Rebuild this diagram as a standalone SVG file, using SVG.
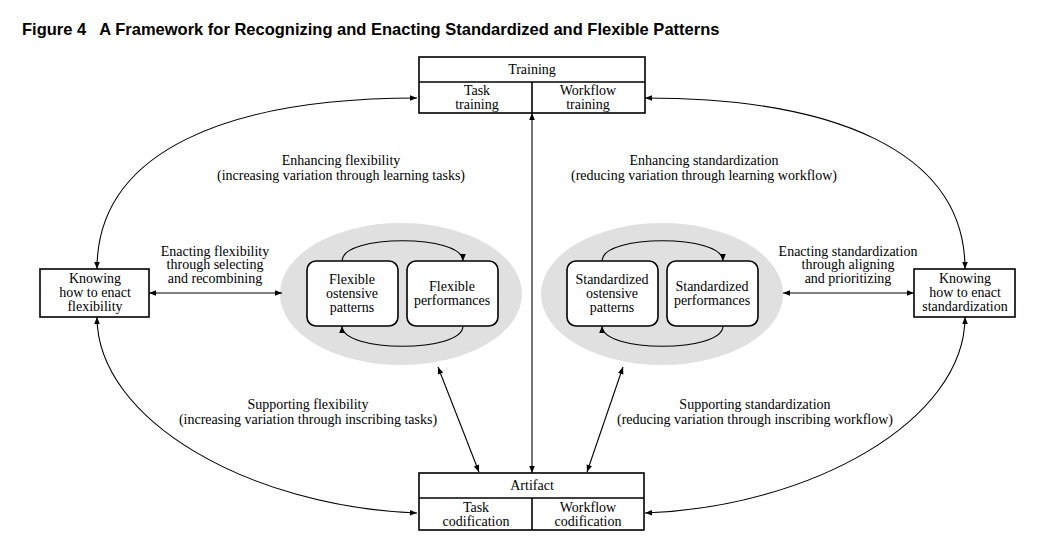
<svg xmlns="http://www.w3.org/2000/svg" width="1054" height="557" viewBox="0 0 1054 557">
<style>
.t{font-family:"Liberation Serif","Times New Roman",serif;font-size:14px;fill:#000;text-anchor:middle}
.box{fill:#fff;stroke:#000;stroke-width:1.6}
.rbox{fill:#fff;stroke:#000;stroke-width:1.6}
.ell{fill:#e0e0e0;stroke:none}
.c{fill:none;stroke:#000;stroke-width:1.1}
.title{font-family:"Liberation Sans",Arial,sans-serif;font-size:16.5px;font-weight:bold;fill:#000}
</style>
<defs>
<marker id="ah" viewBox="0 0 10 10" refX="10" refY="5" markerWidth="8" markerHeight="7" markerUnits="userSpaceOnUse" orient="auto-start-reverse">
<path d="M0,1 L10,5 L0,9 z" fill="#000"/>
</marker>
</defs>
<rect width="1054" height="557" fill="#fff"/>
<text class="title" x="22" y="35" xml:space="preserve">Figure 4   A Framework for Recognizing and Enacting Standardized and Flexible Patterns</text>

<g id="ellipse-flexible"><ellipse class="ell" cx="401" cy="294" rx="121" ry="71"/></g>
<g id="ellipse-standardized"><ellipse class="ell" cx="662" cy="294" rx="121" ry="71"/></g>

<g id="connectors">
<path class="c" d="M97,269 C97,150 230,98 417,98" marker-start="url(#ah)" marker-end="url(#ah)"/>
<path class="c" d="M645,98 C832,98 965,150 965,269" marker-start="url(#ah)" marker-end="url(#ah)"/>
<path class="c" d="M97,317 C97,420 250,507 417,513" marker-start="url(#ah)" marker-end="url(#ah)"/>
<path class="c" d="M965,317 C965,420 812,507 645,513" marker-start="url(#ah)" marker-end="url(#ah)"/>
<path class="c" d="M532,113 L532,473" marker-start="url(#ah)" marker-end="url(#ah)"/>
<path class="c" d="M438,367 L479,472" marker-start="url(#ah)" marker-end="url(#ah)"/>
<path class="c" d="M623,367 L587,472" marker-start="url(#ah)" marker-end="url(#ah)"/>
<path class="c" d="M149,293 L282,293" marker-start="url(#ah)" marker-end="url(#ah)"/>
<path class="c" d="M783,293 L914,293" marker-start="url(#ah)" marker-end="url(#ah)"/>
<path class="c" d="M342,261 C342,234 463,234 463,261" marker-end="url(#ah)"/>
<path class="c" d="M463,326 C463,353 342,353 342,326" marker-end="url(#ah)"/>
<path class="c" d="M602,261 C602,234 723,234 723,261" marker-end="url(#ah)"/>
<path class="c" d="M723,326 C723,353 602,353 602,326" marker-end="url(#ah)"/>
</g>

<g id="training">
<rect class="box" x="419" y="57" width="226" height="56"/>
<line x1="419" y1="82" x2="645" y2="82" stroke="#000" stroke-width="1.6"/>
<line x1="532" y1="82" x2="532" y2="113" stroke="#000" stroke-width="1.6"/>
<text class="t" x="532" y="74">Training</text>
<text class="t" x="477" y="95">Task</text>
<text class="t" x="477" y="109">training</text>
<text class="t" x="588" y="95">Workflow</text>
<text class="t" x="588" y="109">training</text>
</g>

<g id="artifact">
<rect class="box" x="419" y="473" width="225" height="57"/>
<line x1="419" y1="498" x2="644" y2="498" stroke="#000" stroke-width="1.6"/>
<line x1="532" y1="498" x2="532" y2="530" stroke="#000" stroke-width="1.6"/>
<text class="t" x="532" y="490">Artifact</text>
<text class="t" x="476" y="512">Task</text>
<text class="t" x="476" y="526">codification</text>
<text class="t" x="588" y="512">Workflow</text>
<text class="t" x="588" y="526">codification</text>
</g>

<g id="knowing-flexibility">
<rect class="box" x="40" y="269" width="109" height="48"/>
<text class="t" x="95" y="283">Knowing</text>
<text class="t" x="95" y="297">how to enact</text>
<text class="t" x="95" y="311">flexibility</text>
</g>

<g id="knowing-standardization">
<rect class="box" x="914" y="269" width="101" height="48"/>
<text class="t" x="965" y="283">Knowing</text>
<text class="t" x="965" y="297">how to enact</text>
<text class="t" x="965" y="311">standardization</text>
</g>

<g id="flexible-ostensive">
<rect class="rbox" x="307" y="261" width="91" height="65" rx="9"/>
<text class="t" x="352" y="284">Flexible</text>
<text class="t" x="352" y="298">ostensive</text>
<text class="t" x="352" y="312">patterns</text>
</g>
<g id="flexible-performances">
<rect class="rbox" x="407" y="261" width="91" height="65" rx="9"/>
<text class="t" x="452" y="291">Flexible</text>
<text class="t" x="452" y="305">performances</text>
</g>
<g id="standardized-ostensive">
<rect class="rbox" x="567" y="261" width="91" height="65" rx="9"/>
<text class="t" x="612" y="284">Standardized</text>
<text class="t" x="612" y="298">ostensive</text>
<text class="t" x="612" y="312">patterns</text>
</g>
<g id="standardized-performances">
<rect class="rbox" x="667" y="261" width="91" height="65" rx="9"/>
<text class="t" x="712" y="291">Standardized</text>
<text class="t" x="712" y="305">performances</text>
</g>

<g id="labels">
<text class="t" x="341" y="165">Enhancing flexibility</text>
<text class="t" x="341" y="180">(increasing variation through learning tasks)</text>
<text class="t" x="704" y="165">Enhancing standardization</text>
<text class="t" x="704" y="180">(reducing variation through learning workflow)</text>
<text class="t" x="215" y="256">Enacting flexibility</text>
<text class="t" x="215" y="269">through selecting</text>
<text class="t" x="215" y="283">and recombining</text>
<text class="t" x="848" y="256">Enacting standardization</text>
<text class="t" x="848" y="269">through aligning</text>
<text class="t" x="848" y="283">and prioritizing</text>
<text class="t" x="308" y="409">Supporting flexibility</text>
<text class="t" x="308" y="424">(increasing variation through inscribing tasks)</text>
<text class="t" x="755" y="409">Supporting standardization</text>
<text class="t" x="755" y="424">(reducing variation through inscribing workflow)</text>
</g>
</svg>
